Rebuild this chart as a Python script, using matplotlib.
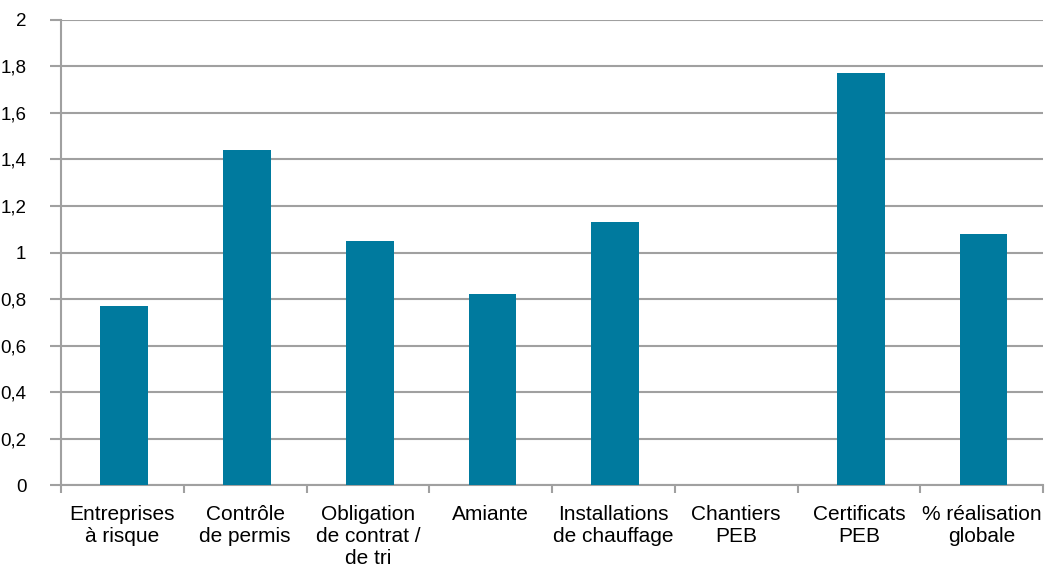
import matplotlib
matplotlib.use("Agg")
from matplotlib import pyplot as plt
from matplotlib.ticker import FixedLocator, FuncFormatter

categories = ["Entreprises\nà risque", "Contrôle\nde permis", "Obligation\nde contrat /\nde tri",
              "Amiante", "Installations\nde chauffage", "Chantiers\nPEB", "Certificats\nPEB",
              "% réalisation\nglobale"]
values = [0.77, 1.44, 1.05, 0.82, 1.13, 0.0, 1.77, 1.08]
y_ticks = [0, 0.2, 0.4, 0.6, 0.8, 1.0, 1.2, 1.4, 1.6, 1.8, 2.0]

plt.rcParams['font.family'] = ['Liberation Sans', 'DejaVu Sans']

fig = plt.figure(figsize=(10.52, 5.70), dpi=100)
ax = fig.add_axes([0.058, 0.149, 0.9335, 0.816])

x = range(len(categories))
ax.bar([i + 0.015 for i in x], values, width=0.39, color="#007A9E", zorder=3)

ax.set_xlim(-0.5, len(categories) - 0.5)
ax.set_ylim(0, 2)
ax.set_yticks(y_ticks)
ax.yaxis.set_major_formatter(FuncFormatter(lambda v, p: ("%g" % round(v, 1)).replace(".", ",")))
ax.grid(axis="y", color="#a0a0a0", linewidth=1.5, zorder=0)

ax.set_xticks(list(x))
ax.set_xticklabels(categories, fontsize=15, linespacing=1.2)
ax.tick_params(axis="x", length=0, pad=14)
ax.xaxis.set_minor_locator(FixedLocator([i - 0.5 for i in range(len(categories) + 1)]))
ax.tick_params(axis="x", which="minor", length=6, width=1.5, color="#a0a0a0")
ax.tick_params(axis="y", length=8, width=1.5, color="#a0a0a0", labelsize=13.5, pad=17)

for s in ["top", "right"]:
    ax.spines[s].set_visible(False)
ax.spines["left"].set_color("#a0a0a0")
ax.spines["left"].set_linewidth(1.5)
ax.spines["bottom"].set_color("#a0a0a0")
ax.spines["bottom"].set_linewidth(1.5)

plt.savefig("out.png", dpi=100)
